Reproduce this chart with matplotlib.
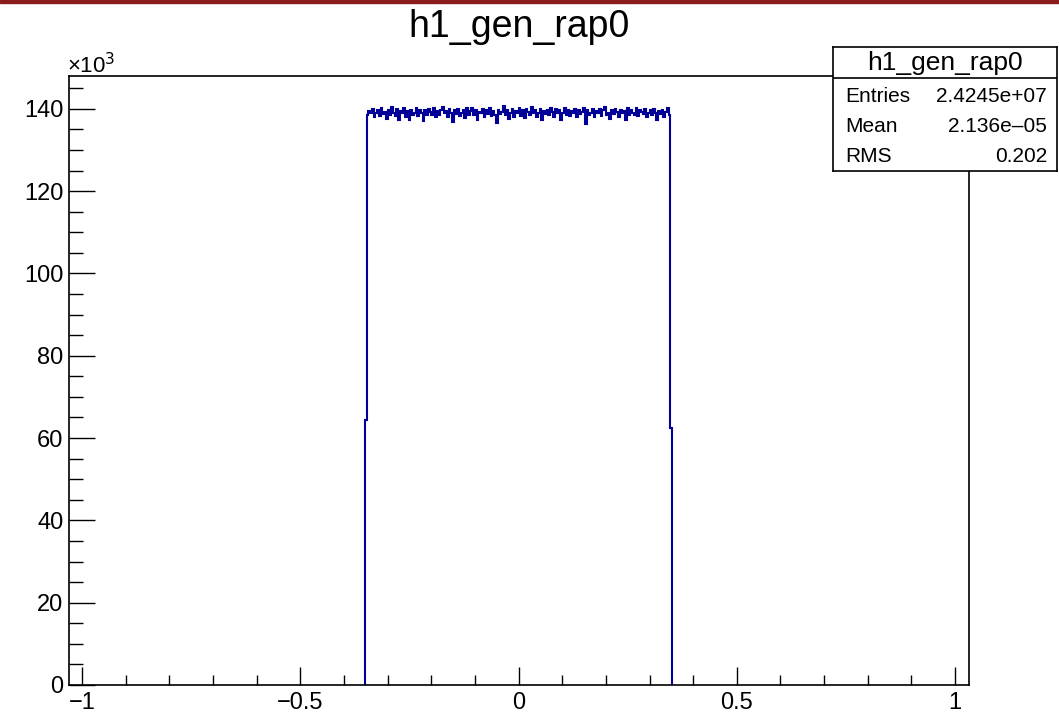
import numpy as np
import matplotlib
matplotlib.use("Agg")
import matplotlib.pyplot as plt
from matplotlib.patches import Rectangle
from matplotlib.ticker import MultipleLocator

plt.rcParams['font.family'] = ['Liberation Sans', 'DejaVu Sans']

# histogram contents, in units of 10^3 entries
bin_lo = -0.352
bin_w = 0.004
counts = [64.4,
    138.4, 139.5, 138.9, 139.9, 138.0, 139.0, 139.7, 138.3, 140.1, 138.7, 139.3, 137.5,
    139.8, 138.6, 140.4, 139.0, 138.2, 139.9, 137.2, 139.4, 138.9, 140.2, 138.1, 139.5,
    137.4, 139.8, 138.5, 139.0, 140.3, 138.3, 139.6, 138.9, 137.0, 139.7, 138.6, 140.0,
    139.2, 138.4, 140.2, 137.9, 139.5, 138.6, 139.8, 140.5, 138.9, 139.4, 138.1, 139.9,
    138.9, 136.9, 139.6, 138.7, 140.0, 138.3, 139.0, 139.7, 137.8, 140.1, 138.5, 139.4,
    140.3, 138.4, 139.6, 137.3, 139.2, 138.9, 139.9, 138.0, 139.7, 138.7, 140.2, 138.3,
    139.4, 138.6, 136.5, 139.8, 138.7, 139.2, 140.6, 138.4, 139.7, 137.5, 139.0, 140.0,
    138.1, 139.4, 138.9, 140.1, 138.3, 139.6, 137.7, 139.9, 139.2, 138.6, 140.4, 138.9,
    139.7, 138.0, 139.0, 140.0, 137.2, 139.4, 138.7, 139.8, 138.4, 140.2, 139.2, 138.1,
    139.9, 138.9, 139.6, 137.4, 139.0, 140.3, 138.6, 139.7, 138.3, 139.4, 138.9, 140.0,
    137.9, 139.8, 138.7, 139.2, 140.1, 136.4, 139.6, 138.4, 139.0, 139.9, 138.1, 139.4,
    138.9, 140.0, 138.3, 139.6, 140.5, 138.6, 139.0, 137.5, 139.7, 138.7, 139.9, 139.2,
    138.0, 139.8, 138.9, 139.4, 137.3, 140.1, 138.4, 139.6, 139.0, 138.6, 140.2, 138.3,
    139.7, 139.2, 138.7, 139.9, 137.9, 139.0, 139.6, 138.4, 140.0, 138.9, 137.2, 139.4,
    138.7, 139.8, 138.1, 139.2, 140.1, 138.6,
    62.5]

hist_name = "h1_gen_rap0"
stats_labels = ["Entries", "Mean", "RMS"]
stats_values = ["2.4245e+07", "2.136e\u201305", "0.202"]

edges = bin_lo + bin_w * np.arange(len(counts) + 1)

fig = plt.figure(figsize=(10.59, 7.15), dpi=100)
fig.patches.append(Rectangle((0, 0.996), 1, 0.004, transform=fig.transFigure,
                             color='#8b1a1a', zorder=10))

ax = fig.add_axes([0.0652, 0.042, 0.8498, 0.8518])
ax.stairs(counts, edges, baseline=0, color='#000099', linewidth=1.5)
ax.set_xlim(-1.03, 1.032)
ax.set_ylim(0, 148)

ax.xaxis.set_major_locator(MultipleLocator(0.5))
ax.xaxis.set_minor_locator(MultipleLocator(0.1))
ax.yaxis.set_major_locator(MultipleLocator(20))
ax.yaxis.set_minor_locator(MultipleLocator(5))
ax.set_xticks([-1, -0.5, 0, 0.5, 1])
ax.set_xticklabels(["\u22121", "\u22120.5", "0", "0.5", "1"])
ax.tick_params(axis='x', which='major', direction='in', length=13, width=1, labelsize=17, pad=5)
ax.tick_params(axis='x', which='minor', direction='in', length=7, width=1)
ax.tick_params(axis='y', which='major', direction='in', length=19, width=1, labelsize=17, pad=4)
ax.tick_params(axis='y', which='minor', direction='in', length=10, width=1)
for s in ax.spines.values():
    s.set_linewidth(1.2)

fig.text(0.49, 0.962, hist_name, ha='center', va='center', fontsize=27)
fig.text(0.063, 0.908, "\u00d710$^3$", ha='left', va='center', fontsize=16)

# stats box
sb = fig.add_axes([0.7866, 0.7608, 0.2115, 0.1734])
sb.set_xticks([])
sb.set_yticks([])
sb.set_xlim(0, 1)
sb.set_ylim(0, 1)
for s in sb.spines.values():
    s.set_linewidth(1.2)
sb.axhline(0.75, color='black', linewidth=1.2)
sb.text(0.5, 0.875, hist_name, ha='center', va='center', fontsize=19)
for lab, val, yy in zip(stats_labels, stats_values, [0.605, 0.363, 0.121]):
    sb.text(0.054, yy, lab, ha='left', va='center', fontsize=15)
    sb.text(0.955, yy, val, ha='right', va='center', fontsize=15)

fig.savefig("out.png", dpi=100)
